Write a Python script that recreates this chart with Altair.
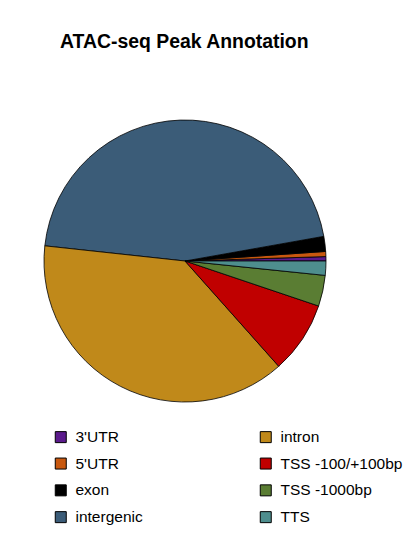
import math
import altair as alt
import pandas as pd

categories = ["3'UTR", "5'UTR", "exon", "intergenic", "intron",
              "TSS -100/+100bp", "TSS -1000bp", "TTS"]
percent = [0.50, 0.58, 1.72, 45.47, 38.28, 8.25, 3.54, 1.63]
colors = ["#5B1A8C", "#C8580F", "#000000", "#3B5C78", "#C0891A",
          "#C00000", "#5A7D33", "#4E8E8E"]

df = pd.DataFrame({"category": categories, "percent": percent,
                   "idx": list(range(len(categories)))})

FONT = "Liberation Sans"

pie = alt.Chart(df).mark_arc(
    radius=141, stroke="black", strokeWidth=0.8
).encode(
    theta=alt.Theta("percent:Q", stack=True,
                    scale=alt.Scale(range=[2.5 * math.pi, 0.5 * math.pi])),
    order=alt.Order("idx:Q", sort="ascending"),
    color=alt.Color(
        "category:N",
        scale=alt.Scale(domain=categories, range=colors),
        legend=alt.Legend(
            title=None, orient="none", legendX=45, legendY=361,
            columns=2, columnPadding=115, rowPadding=9.8,
            symbolType="square", symbolSize=121, symbolStrokeColor="black",
            symbolStrokeWidth=1, symbolOpacity=1,
            labelFont=FONT, labelFontSize=15.5, labelColor="black",
            labelOffset=7, padding=0, labelLimit=300,
        ),
    ),
    x=alt.value(177),
    y=alt.value(193),
)

chart = pie.properties(
    width=399, height=465,
    padding={"left": 0, "top": 60, "right": 0, "bottom": 0},
    autosize=alt.AutoSizeParams(type="none"),
    title=alt.TitleParams(
        "ATAC-seq Peak Annotation", anchor="start", dx=52, offset=1,
        baseline="alphabetic", font=FONT, fontSize=19.4, fontWeight="bold",
        color="black",
    ),
).configure_view(stroke=None)

chart.save("out.html", embed_options={"renderer": "svg", "actions": False})
